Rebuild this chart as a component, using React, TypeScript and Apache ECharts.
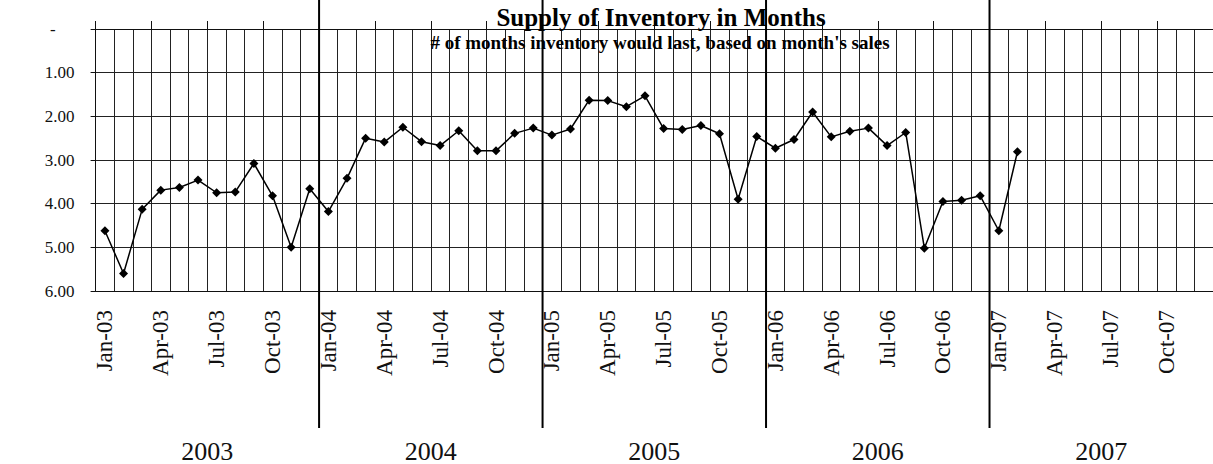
import React, { useEffect, useRef } from 'react';
import * as echarts from 'echarts';

const categories = [
  'Jan-03', 'Feb-03', 'Mar-03', 'Apr-03', 'May-03', 'Jun-03', 'Jul-03', 'Aug-03', 'Sep-03', 'Oct-03', 'Nov-03', 'Dec-03',
  'Jan-04', 'Feb-04', 'Mar-04', 'Apr-04', 'May-04', 'Jun-04', 'Jul-04', 'Aug-04', 'Sep-04', 'Oct-04', 'Nov-04', 'Dec-04',
  'Jan-05', 'Feb-05', 'Mar-05', 'Apr-05', 'May-05', 'Jun-05', 'Jul-05', 'Aug-05', 'Sep-05', 'Oct-05', 'Nov-05', 'Dec-05',
  'Jan-06', 'Feb-06', 'Mar-06', 'Apr-06', 'May-06', 'Jun-06', 'Jul-06', 'Aug-06', 'Sep-06', 'Oct-06', 'Nov-06', 'Dec-06',
  'Jan-07', 'Feb-07', 'Mar-07', 'Apr-07', 'May-07', 'Jun-07', 'Jul-07', 'Aug-07', 'Sep-07', 'Oct-07', 'Nov-07', 'Dec-07',
];

const supplyMonths: (number | null)[] = [
  4.62, 5.6, 4.13, 3.69, 3.63, 3.46, 3.75, 3.73, 3.08, 3.82, 5.0, 3.66,
  4.18, 3.42, 2.5, 2.59, 2.25, 2.58, 2.67, 2.33, 2.79, 2.79, 2.39, 2.27,
  2.43, 2.29, 1.63, 1.64, 1.78, 1.53, 2.28, 2.3, 2.21, 2.4, 3.9, 2.46,
  2.73, 2.53, 1.9, 2.47, 2.34, 2.27, 2.67, 2.37, 5.02, 3.95, 3.92, 3.82,
  4.62, 2.81, null, null, null, null, null, null, null, null, null, null,
];

const yearLabels = ['2003', '2004', '2005', '2006', '2007'];
const yearStartCategory = ['Jan-03', 'Jan-04', 'Jan-05', 'Jan-06', 'Jan-07'];

const titleText = 'Supply of Inventory in Months';
const subtitleText = "# of months inventory would last, based on month's sales";

const serif = '"Liberation Serif", "Times New Roman", serif';

export default function App() {
  const ref = useRef<HTMLDivElement>(null);

  useEffect(() => {
    document.body.style.margin = '0';
    const chart = echarts.init(ref.current!, null, { renderer: 'svg' });
    chart.setOption({
      animation: false,
      grid: { left: 95.6, top: 29, width: 1130, height: 262 },
      xAxis: [
        {
          type: 'category',
          data: categories,
          position: 'bottom',
          boundaryGap: true,
          axisLine: { show: true, onZero: false, lineStyle: { color: '#111', width: 1 } },
          axisTick: { show: false },
          axisLabel: {
            interval: 2,
            rotate: 90,
            margin: 19,
            fontSize: 23,
            fontFamily: serif,
            color: '#111',
          },
          splitLine: { show: true, interval: 0, lineStyle: { color: '#222', width: 1 } },
        },
        {
          type: 'category',
          data: categories,
          position: 'top',
          boundaryGap: true,
          axisLine: { show: true, onZero: false, lineStyle: { color: '#111', width: 1 } },
          axisTick: { show: true, interval: 2, length: 8, lineStyle: { color: '#111', width: 1 } },
          axisLabel: { show: false },
          splitLine: { show: false },
        },
      ],
      yAxis: {
        type: 'value',
        inverse: true,
        min: 0,
        max: 6,
        interval: 1,
        axisLine: { show: true, lineStyle: { color: '#111', width: 1 } },
        axisTick: { show: true, length: 5, lineStyle: { color: '#111' } },
        axisLabel: {
          margin: 21,
          fontSize: 17,
          fontFamily: serif,
          color: '#111',
          formatter: (v: number) => (v === 0 ? '{d|-}' : v.toFixed(2)),
          rich: { d: { padding: [0, 19, 0, 0], fontSize: 17, fontFamily: serif, color: '#111' } },
        },
        splitLine: { show: true, lineStyle: { color: '#222', width: 1 } },
      },
      series: [
        {
          type: 'line',
          data: supplyMonths,
          xAxisIndex: 0,
          symbol: 'diamond',
          symbolSize: 9,
          connectNulls: false,
          lineStyle: { color: '#000', width: 1.5 },
          itemStyle: { color: '#000' },
          z: 5,
        },
      ],
    });

    const c0 = chart.convertToPixel({ xAxisIndex: 0 }, categories[0]) as number;
    const c1 = chart.convertToPixel({ xAxisIndex: 0 }, categories[1]) as number;
    const band = c1 - c0;
    const graphics: any[] = [];
    yearStartCategory.forEach((cat, i) => {
      const xb = (chart.convertToPixel({ xAxisIndex: 0 }, cat) as number) - band / 2;
      if (i > 0) {
        graphics.push({
          type: 'line',
          shape: { x1: xb, y1: 0, x2: xb, y2: 428 },
          style: { stroke: '#000', lineWidth: 2 },
          z: 100,
        });
      }
      graphics.push({
        type: 'text',
        x: xb + band * 6,
        y: 451,
        style: {
          text: yearLabels[i],
          fontSize: 26,
          fontFamily: serif,
          fill: '#111',
          textAlign: 'center',
          textVerticalAlign: 'middle',
        },
        z: 100,
      });
    });
    graphics.push({
      type: 'text',
      x: 661,
      y: 17,
      style: {
        text: titleText,
        fontSize: 25,
        fontWeight: 'bold',
        fontFamily: serif,
        fill: '#000',
        textAlign: 'center',
        textVerticalAlign: 'middle',
      },
      z: 100,
    });
    graphics.push({
      type: 'text',
      x: 660,
      y: 42,
      style: {
        text: subtitleText,
        fontSize: 19,
        fontWeight: 'bold',
        fontFamily: serif,
        fill: '#000',
        textAlign: 'center',
        textVerticalAlign: 'middle',
      },
      z: 100,
    });
    chart.setOption({ graphic: graphics });

    return () => chart.dispose();
  }, []);

  return (
    <div
      ref={ref}
      style={{ position: 'fixed', left: 0, top: 0, width: 1213, height: 464, background: '#fff' }}
    />
  );
}
